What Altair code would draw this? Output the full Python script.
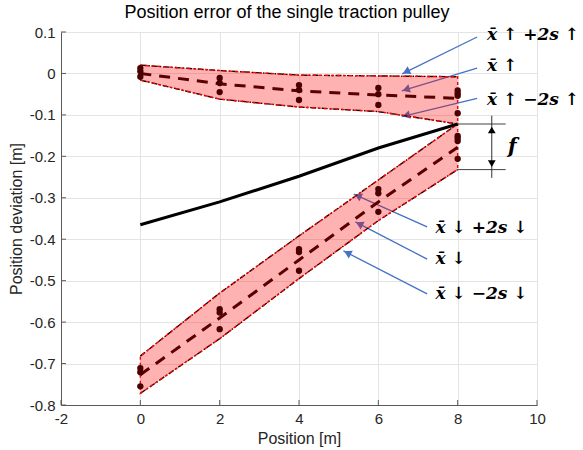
import math
import altair as alt
import pandas as pd

# Measurement stations along the travel [m]
positions = [0, 2, 4, 6, 8]

# Upward run: mean and mean ± 2s
up_mean = [0.000, -0.025, -0.042, -0.052, -0.060]
up_hi = [0.020, 0.007, -0.004, -0.006, -0.008]
up_lo = [-0.016, -0.062, -0.081, -0.092, -0.122]

# Downward run: mean and mean ± 2s
down_mean = [-0.727, -0.590, -0.450, -0.310, -0.178]
down_hi = [-0.682, -0.530, -0.392, -0.257, -0.122]
down_lo = [-0.772, -0.640, -0.495, -0.355, -0.232]

# Mid line between the two runs
mid_line = [-0.365, -0.310, -0.248, -0.180, -0.122]

# Individual measurements
up_pts_x = [0, 0, 0, 2, 2, 2, 4, 4, 4, 6, 6, 6, 8, 8, 8, 8]
up_pts_y = [0.013, 0.005, -0.008, -0.011, -0.023, -0.045, -0.028, -0.040, -0.064,
            -0.035, -0.050, -0.076, -0.041, -0.048, -0.054, -0.096]
down_pts_x = [0, 0, 0, 2, 2, 2, 4, 4, 4, 6, 6, 6, 8, 8, 8, 8]
down_pts_y = [-0.711, -0.721, -0.755, -0.569, -0.577, -0.617, -0.424, -0.431, -0.476,
              -0.279, -0.289, -0.334, -0.151, -0.156, -0.163, -0.206]

# Callout labels and their arrows (tail -> head, in data units)
callout_text = ["x̄ ↑ +2s ↑", "x̄ ↑", "x̄ ↑ −2s ↑", "x̄ ↓ +2s ↓", "x̄ ↓", "x̄ ↓ −2s ↓"]
callout_x = [8.74, 8.74, 8.74, 7.44, 7.44, 7.44]
callout_y = [0.092, 0.018, -0.064, -0.373, -0.448, -0.532]
arrow_tail_x = [8.49, 8.49, 8.49, 7.23, 7.23, 7.23]
arrow_tail_y = [0.088, 0.013, -0.060, -0.370, -0.448, -0.532]
arrow_head_x = [6.60, 6.59, 6.59, 5.38, 5.42, 5.12]
arrow_head_y = [-0.001, -0.042, -0.104, -0.291, -0.358, -0.428]

# Hysteresis span f at the last station
f_top, f_bottom = -0.122, -0.232
f_line_end = 9.21
f_arrow_x = 8.86
f_label_x, f_label_y = 9.38, -0.178

x_ticks = [-2, 0, 2, 4, 6, 8, 10]
y_ticks = [0.1, 0.0, -0.1, -0.2, -0.3, -0.4, -0.5, -0.6, -0.7, -0.8]

W, H = 476, 373
X_DOM, Y_DOM = [-2, 10], [-0.8, 0.1]
PX_X = W / (X_DOM[1] - X_DOM[0])
PX_Y = H / (Y_DOM[1] - Y_DOM[0])

xs = alt.Scale(domain=X_DOM, nice=False, zero=False)
ys = alt.Scale(domain=Y_DOM, nice=False, zero=False)

FONT = "Liberation Sans"
X_AX = alt.Axis(values=x_ticks, title="Position [m]", grid=True, ticks=False,
                labelExpr="datum.value < 0 ? '-' + format(-datum.value, 'd') : format(datum.value, 'd')",
                domainColor="#595959", gridColor="#e4e4e4", labelFont=FONT, labelFontSize=15,
                labelColor="#262626", labelPadding=6, titleFont=FONT, titleFontSize=16,
                titleFontWeight="normal", titleColor="#262626", titlePadding=4, labelFlush=False)
Y_AX = alt.Axis(values=y_ticks, title="Position deviation [m]", grid=True, ticks=False,
                labelExpr="datum.value < 0 ? '-' + format(-datum.value, '.1~f') : format(datum.value, '.1~f')",
                domainColor="#595959", gridColor="#e4e4e4", labelFont=FONT, labelFontSize=15,
                labelColor="#262626", labelPadding=6, titleFont=FONT, titleFontSize=16,
                titleFontWeight="normal", titleColor="#262626", titlePadding=5, labelFlush=False)


def X(field="x"):
    return alt.X(f"{field}:Q", scale=xs, axis=X_AX)


def Y(field="y"):
    return alt.Y(f"{field}:Q", scale=ys, axis=Y_AX)


# Tables
bands = pd.DataFrame({
    "x": positions * 2,
    "y": up_lo + down_lo,
    "y2": up_hi + down_hi,
    "run": ["up"] * 5 + ["down"] * 5,
})
edges = pd.DataFrame({
    "x": positions * 4,
    "y": up_hi + up_lo + down_hi + down_lo,
    "edge": ["uh"] * 5 + ["ul"] * 5 + ["dh"] * 5 + ["dl"] * 5,
})
means = pd.DataFrame({
    "x": positions * 2,
    "y": up_mean + down_mean,
    "run": ["up"] * 5 + ["down"] * 5,
})
mid = pd.DataFrame({"x": positions, "y": mid_line})
pts = pd.DataFrame({"x": up_pts_x + down_pts_x, "y": up_pts_y + down_pts_y})

# Arrowheads: triangle-up rotated toward the head, centred a little behind the tip
heads = []
for tx, ty, hx, hy in zip(arrow_tail_x, arrow_tail_y, arrow_head_x, arrow_head_y):
    dx = (hx - tx) * PX_X
    dy = -(hy - ty) * PX_Y
    L = math.hypot(dx, dy)
    ang = math.degrees(math.atan2(dx, -dy)) % 360
    back = 4.5
    heads.append({"x": hx - dx / L * back / PX_X, "y": hy + dy / L * back / PX_Y, "angle": ang})
heads = pd.DataFrame(heads)
arrows = pd.DataFrame({"x": arrow_tail_x, "y": arrow_tail_y,
                       "x2": arrow_head_x, "y2": arrow_head_y})
callouts = pd.DataFrame({"x": callout_x, "y": callout_y, "label": callout_text})

ARROW_BLUE = "#4472c4"

arrow_lines = alt.Chart(arrows).mark_rule(color=ARROW_BLUE, strokeWidth=1.3).encode(
    x=X(), y=Y(), x2="x2:Q", y2="y2:Q")
arrow_heads = alt.Chart(heads).mark_point(shape="triangle-up", filled=True, size=75,
                                          color=ARROW_BLUE, opacity=1).encode(
    x=X(), y=Y(), angle=alt.Angle("angle:Q", scale=None))

edge_lines = alt.Chart(edges).mark_line(color="black", strokeWidth=1.4,
                                        strokeDash=[6, 2, 1.5, 2]).encode(
    x=X(), y=Y(), detail="edge:N")

band_area = alt.Chart(bands).mark_area(fill="red", fillOpacity=0.3, stroke="red",
                                       strokeWidth=1.4, strokeDash=[3, 3]).encode(
    x=X(), y=Y(), y2="y2:Q", detail="run:N")

mean_lines = alt.Chart(means).mark_line(color="#5a0000", strokeWidth=3,
                                        strokeDash=[11, 8]).encode(
    x=X(), y=Y(), detail="run:N")

points = alt.Chart(pts).mark_circle(color="#4a0000", size=40, opacity=1).encode(x=X(), y=Y())

mid_curve = alt.Chart(mid).mark_line(color="black", strokeWidth=3).encode(x=X(), y=Y())

# Inward tick marks on the two axes
xt = alt.Chart(pd.DataFrame({"x": x_ticks})).mark_rule(color="#595959").encode(
    x=X(), y=alt.value(H), y2=alt.value(H - 5))
yt = alt.Chart(pd.DataFrame({"y": y_ticks})).mark_rule(color="#595959").encode(
    y=Y(), x=alt.value(0), x2=alt.value(5))

# Span f: two horizontal guides and a double arrow
f_guides = alt.Chart(pd.DataFrame({"x": [8, 8], "x2": [f_line_end, f_line_end],
                                   "y": [f_top, f_bottom]})).mark_rule(
    color="#404040", strokeWidth=1).encode(x=X(), x2="x2:Q", y=Y())
f_shaft = alt.Chart(pd.DataFrame({"x": [f_arrow_x], "y": [f_top + 0.02], "y2": [f_bottom - 0.02]})).mark_rule(
    color="#303030", strokeWidth=1).encode(x=X(), y=Y(), y2="y2:Q")
f_heads = alt.Chart(pd.DataFrame({"x": [f_arrow_x, f_arrow_x],
                                  "y": [f_top - 10 / PX_Y * 0.6, f_bottom + 10 / PX_Y * 0.6],
                                  "angle": [0, 180]})).mark_point(
    shape="triangle-up", filled=True, size=60, color="black", opacity=1).encode(
    x=X(), y=Y(), angle=alt.Angle("angle:Q", scale=None))
f_label = alt.Chart(pd.DataFrame({"x": [f_label_x], "y": [f_label_y], "label": ["f"]})).mark_text(
    font="DejaVu Serif", fontSize=20, fontWeight="bold", fontStyle="italic",
    align="center", baseline="middle", color="black").encode(x=X(), y=Y(), text="label:N")

callout_text_layer = alt.Chart(callouts).mark_text(
    font="DejaVu Serif", fontSize=17, fontWeight="bold", fontStyle="italic", align="left",
    baseline="middle", color="black").encode(x=X(), y=Y(), text="label:N")

chart = alt.layer(
    xt, yt, arrow_lines, arrow_heads, edge_lines, band_area, mean_lines, points,
    mid_curve, f_guides, f_shaft, f_heads, f_label, callout_text_layer,
).properties(
    width=W, height=H,
    title=alt.TitleParams("Position error of the single traction pulley", font=FONT,
                          fontSize=18, fontWeight="normal", color="black", offset=3, dx=-12),
    autosize=alt.AutoSizeParams(type="none"),
    padding={"left": 61, "top": 32, "right": 46, "bottom": 45},
).configure_view(stroke=None).configure(background="white")

chart.save("out.html", embed_options={"renderer": "svg", "actions": False})
